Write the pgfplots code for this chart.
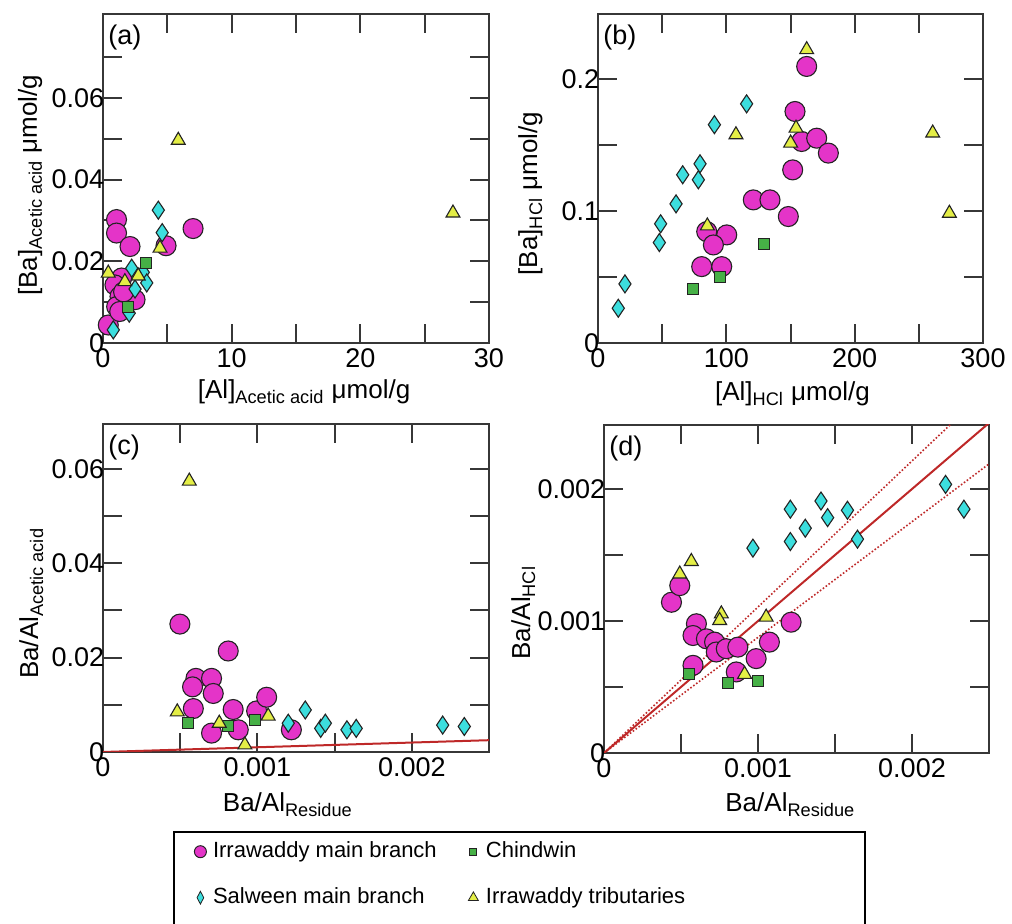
\documentclass[border=0pt]{standalone}
\usepackage{fontspec}
\setmainfont{Liberation Sans}
\usepackage{pgfplots}
\pgfplotsset{compat=1.18}

\definecolor{cIrr}{RGB}{228,52,200}
\definecolor{cSal}{RGB}{60,222,222}
\definecolor{cChi}{RGB}{70,176,70}
\definecolor{cTri}{RGB}{228,238,70}
\definecolor{cLine}{RGB}{190,40,40}
\definecolor{axgray}{RGB}{55,55,55}
\definecolor{mkline}{RGB}{35,35,35}

\pgfplotsset{
  panel/.style={
    scale only axis,
    axis line style={line width=1pt, draw=axgray},
    tick style={line width=1pt, draw=axgray},
    tick align=inside,
    major tick length=9.5pt, minor tick length=9.5pt,
    ticklabel style={font=\fontsize{13.5}{16}\selectfont},
    yticklabel style={inner xsep=0pt, xshift=0.8pt},
    xticklabel style={inner ysep=2.5pt},
    label style={font=\fontsize{13}{15}\selectfont},
    scaled ticks=false,
  },
  irr/.style={only marks, mark=*, mark size=5pt, mark options={fill=cIrr, draw=mkline, line width=0.55pt}},
  sal/.style={only marks, mark=diamond*, mark size=4.5pt, mark options={xscale=0.9, fill=cSal, draw=mkline, line width=0.55pt}},
  chi/.style={only marks, mark=square*, mark size=2.75pt, mark options={fill=cChi, draw=mkline, line width=0.45pt}},
  tri/.style={only marks, mark=triangle*, mark size=4pt, mark options={fill=cTri, draw=mkline, line width=0.55pt}},
  legimg/.style={legend image code/.code={\path[draw=none, fill=none] (0pt,-2pt) rectangle (10pt,2pt); \draw[##1] plot coordinates {(5pt,0pt)};}},
}

\begin{document}
\begin{tikzpicture}
\useasboundingbox (0,0) rectangle (506pt,462pt);

% ---------------- (a)
\begin{axis}[panel, at={(51.5pt,290.5pt)}, anchor=south west,
  width=193pt, height=164.5pt,
  xmin=0, xmax=30, ymin=0, ymax=0.0805,
  xtick={0,10,20,30}, xticklabels={0,10,20,30}, minor xtick={5,15,25},
  ytick={0,0.02,0.04,0.06}, yticklabels={0,0.02,0.04,0.06}, minor ytick={0.01,0.03,0.05,0.07},
  xlabel={[Al]\textsubscript{Acetic acid} μmol/g},
  ylabel={[Ba]\textsubscript{Acetic acid} μmol/g},
  xlabel style={at={(axis description cs:0.521,0)}, anchor=base, yshift=-28pt},
  ylabel style={at={(axis description cs:-0.171,0.48)}, anchor=base},
]
\addplot[irr] coordinates {(7.0,0.028) (1.05,0.0302) (1.05,0.0269) (2.1,0.0236) (4.9,0.0238)
  (1.45,0.0159) (0.93,0.0142) (1.32,0.0114) (2.49,0.0106) (1.06,0.0089) (0.41,0.0044)
  (1.6,0.0125) (1.3,0.0077)};
\addplot[sal] coordinates {(4.3,0.0325) (4.6,0.027) (2.23,0.0183) (3.13,0.0173) (3.4,0.0147)
  (2.49,0.0132) (2.04,0.0073) (0.8,0.0032)};
\addplot[chi] coordinates {(3.34,0.0197) (1.92,0.0089)};
\addplot[tri] coordinates {(5.85,0.0496) (27.2,0.0318) (4.43,0.0232) (0.41,0.0171) (1.7,0.015) (2.74,0.0164)};
\node[anchor=north west, inner sep=0pt, xshift=2.5pt, yshift=-5.5pt, font=\fontsize{13.5}{16}\selectfont] at (rel axis cs:0,1) {(a)};
\end{axis}

% ---------------- (b)
\begin{axis}[panel, at={(299pt,290.5pt)}, anchor=south west,
  width=192.5pt, height=164.5pt,
  xmin=0, xmax=300, ymin=0, ymax=0.249,
  xtick={0,100,200,300}, xticklabels={0,100,200,300}, minor xtick={50,150,250},
  ytick={0,0.1,0.2}, yticklabels={0,0.1,0.2}, minor ytick={0.05,0.15},
  xlabel={[Al]\textsubscript{HCl} μmol/g},
  ylabel={[Ba]\textsubscript{HCl} μmol/g},
  xlabel style={at={(axis description cs:0.505,0)}, anchor=base, yshift=-28.75pt},
  ylabel style={at={(axis description cs:-0.158,0.454)}, anchor=base},
]
\addplot[irr] coordinates {(162.6,0.2093) (153.5,0.1752) (158.7,0.1525) (170.4,0.155) (179.5,0.1437)
  (151.7,0.131) (121,0.1083) (134,0.1083) (148.3,0.0957) (84.7,0.0843) (100.3,0.0818)
  (89.9,0.0742) (80.8,0.0578) (96.4,0.0578)};
\addplot[sal] coordinates {(15.8,0.0263) (21,0.0447) (47.8,0.076) (48.8,0.0902) (60.8,0.1053)
  (66,0.1273) (78.2,0.1235) (79.5,0.1356) (90.7,0.1652) (115.8,0.181)};
\addplot[chi] coordinates {(74.3,0.0407) (95.1,0.0502) (129.6,0.0748)};
\addplot[tri] coordinates {(162.6,0.222) (107.5,0.1576) (154.3,0.1626) (150.1,0.1513) (85.2,0.0886)
  (260.8,0.1589) (273.8,0.0982)};
\node[anchor=north west, inner sep=0pt, xshift=2.5pt, yshift=-5.5pt, font=\fontsize{13.5}{16}\selectfont] at (rel axis cs:0,1) {(b)};
\end{axis}

% ---------------- (c)
\begin{axis}[panel, at={(51.5pt,86pt)}, anchor=south west,
  width=193pt, height=164pt,
  xmin=0, xmax=0.0025, ymin=0, ymax=0.0695,
  xtick={0,0.001,0.002}, xticklabels={0,0.001,0.002}, minor xtick={0.0005,0.0015},
  ytick={0,0.02,0.04,0.06}, yticklabels={0,0.02,0.04,0.06}, minor ytick={0.01,0.03,0.05},
  xlabel={Ba/Al\textsubscript{Residue}},
  ylabel={Ba/Al\textsubscript{Acetic acid}},
  xlabel style={at={(axis description cs:0.479,0)}, anchor=base, yshift=-29.8pt},
  ylabel style={at={(axis description cs:-0.168,0.453)}, anchor=base},
]
\addplot[irr] coordinates {(0.000498,0.0271) (0.000811,0.0214) (0.000602,0.0156) (0.00058,0.0138)
  (0.000703,0.0156) (0.000714,0.0124) (0.000585,0.0092) (0.000843,0.009) (0.000995,0.0087)
  (0.00106,0.0116) (0.000703,0.004) (0.000876,0.0047) (0.00122,0.0047)};
\addplot[sal] coordinates {(0.0012,0.0061) (0.00131,0.0089) (0.00141,0.005) (0.00144,0.0061)
  (0.00158,0.0047) (0.00164,0.005) (0.0022,0.0057) (0.00234,0.0054)};
\addplot[chi] coordinates {(0.000548,0.0061) (0.000807,0.0055) (0.000984,0.0068)};
\addplot[tri] coordinates {(0.000559,0.0574) (0.000481,0.0085) (0.000753,0.0061) (0.000919,0.0015) (0.00107,0.0076)};
\addplot[cLine, line width=1pt] coordinates {(0,0) (0.0025,0.0025)};
\node[anchor=north west, inner sep=0pt, xshift=2.5pt, yshift=-5.5pt, font=\fontsize{13.5}{16}\selectfont] at (rel axis cs:0,1) {(c)};
\end{axis}

% ---------------- (d)
\begin{axis}[panel, at={(302pt,85.5pt)}, anchor=south west,
  width=192.5pt, height=164pt,
  xmin=0, xmax=0.0025, ymin=0, ymax=0.002485,
  xtick={0,0.001,0.002}, xticklabels={0,0.001,0.002}, minor xtick={0.0005,0.0015},
  ytick={0,0.001,0.002}, yticklabels={0,0.001,0.002}, minor ytick={0.0005,0.0015},
  xlabel={Ba/Al\textsubscript{Residue}},
  ylabel={Ba/Al\textsubscript{HCl}},
  xlabel style={at={(axis description cs:0.484,0)}, anchor=base, yshift=-29.5pt},
  ylabel style={at={(axis description cs:-0.192,0.428)}, anchor=base},
]
\addplot[irr] coordinates {(0.000438,0.001142) (0.000492,0.001268) (0.0006,0.000979) (0.000578,0.00089)
  (0.000665,0.000865) (0.000718,0.00084) (0.000729,0.000765) (0.000794,0.00079) (0.000869,0.000802)
  (0.000578,0.000664) (0.000859,0.000614) (0.000988,0.000715) (0.001074,0.00084) (0.001215,0.000991)};
\addplot[sal] coordinates {(0.000967,0.001552) (0.00121,0.001847) (0.00121,0.001602) (0.001307,0.001703)
  (0.001409,0.001909) (0.001452,0.001783) (0.001581,0.001839) (0.001646,0.00162) (0.002218,0.002035)
  (0.002337,0.001847)};
\addplot[chi] coordinates {(0.00055,0.000596) (0.000807,0.000533) (0.001001,0.000546)};
\addplot[tri] coordinates {(0.000567,0.001451) (0.000492,0.001356) (0.000762,0.001054) (0.000751,0.001004)
  (0.001053,0.001029) (0.000913,0.000596)};
\addplot[cLine, line width=1pt] coordinates {(0,0) (0.0025,0.0025)};
\addplot[cLine, line width=0.8pt, densely dotted] coordinates {(0,0) (0.00226,0.0025)};
\addplot[cLine, line width=0.8pt, densely dotted] coordinates {(0,0) (0.0025,0.00219)};
\node[anchor=north west, inner sep=0pt, xshift=2.5pt, yshift=-5.5pt, font=\fontsize{13.5}{16}\selectfont] at (rel axis cs:0,1) {(d)};
\end{axis}

% ---------------- legend
\begin{axis}[at={(0pt,0pt)}, anchor=south west, scale only axis,
  width=506pt, height=462pt, xmin=0, xmax=1, ymin=0, ymax=1, hide axis,
  legend columns=2, legend cell align=left,
  legend style={at={(0.17194,0.09957)}, anchor=north west, draw=none, fill=none,
    inner xsep=8pt, inner ysep=4pt, font=\fontsize{11}{13}\selectfont,
    nodes={inner xsep=1.3pt, inner ysep=0.5pt, text height=8pt, text depth=2.3pt},
    /tikz/every even column/.append style={column sep=12pt}, row sep=11.7pt},
]
\addlegendimage{only marks, mark=*, mark size=3pt, mark options={fill=cIrr, draw=mkline, line width=0.5pt}, legimg}
\addlegendimage{only marks, mark=square*, mark size=1.75pt, mark options={fill=cChi, draw=mkline, line width=0.4pt}, legimg}
\addlegendimage{only marks, mark=diamond*, mark size=3.2pt, mark options={xscale=0.7, fill=cSal, draw=mkline, line width=0.4pt}, legimg}
\addlegendimage{only marks, mark=triangle*, mark size=2.9pt, mark options={fill=cTri, draw=mkline, line width=0.4pt}, legimg}
\legend{Irrawaddy main branch, Chindwin, Salween main branch, Irrawaddy tributaries}
\end{axis}

\draw[line width=1pt, black] (87pt,46pt) rectangle (432.5pt,-5pt);
\end{tikzpicture}
\end{document}
